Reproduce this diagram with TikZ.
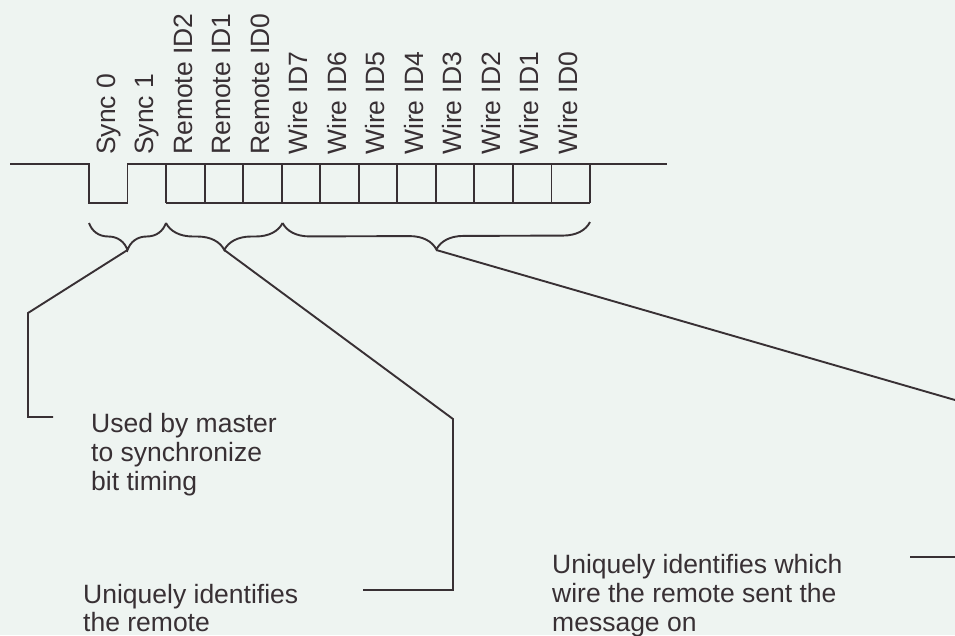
\documentclass[tikz,border=0pt]{standalone}
\usepackage{fontspec}
\setmainfont{Liberation Sans}
\usetikzlibrary{decorations.pathreplacing}
\definecolor{bg}{RGB}{238,244,241}
\definecolor{ink}{RGB}{56,48,52}
\begin{document}
\begin{tikzpicture}[x=1pt,y=-1pt,
  wire/.style={draw=ink, line width=1.9pt, line join=miter},
  bitlabel/.style={rotate=90, anchor=base west, inner sep=0pt, text=ink,
    font=\fontsize{26.5}{29}\selectfont},
  note/.style={anchor=base west, inner sep=0pt, text=ink,
    font=\fontsize{26.5}{29}\selectfont},
  curly/.style={draw=ink, line width=1.9pt, decorate,
    decoration={brace, mirror, amplitude=27pt}}]
\fill[bg] (0,0) rectangle (955,635);
\useasboundingbox (0,0) rectangle (955,635);

% signal waveform
\coordinate (s0) at (10,164);
\coordinate (s1) at (89,164);
\coordinate (s2) at (89,203);
\coordinate (s3) at (127.5,203);
\coordinate (s4) at (127.5,164);
\coordinate (s5) at (667,164);
\draw[wire] (s0) -- (s1) -- (s2) -- (s3) -- (s4) -- (s5);

% bit cells
\coordinate (bl) at (166,203);
\coordinate (br) at (590,203);
\draw[wire] (bl) -- (br);
\foreach \i in {2,...,13}
  \draw[wire] ({89+38.54*\i},164) -- ({89+38.54*\i},203);

% rotated bit labels
\foreach \i/\t in {0/Sync 0,1/Sync 1,2/Remote ID2,3/Remote ID1,4/Remote ID0,
  5/Wire ID7,6/Wire ID6,7/Wire ID5,8/Wire ID4,9/Wire ID3,10/Wire ID2,
  11/Wire ID1,12/Wire ID0}
  \node[bitlabel] (lab\i) at ({89+38.54*\i+26},155) {\t};

% braces
\coordinate (k0) at (89,223);
\coordinate (k1) at (166,223);
\coordinate (k2) at (282.6,223);
\coordinate (k3) at (590,222);
\draw[curly] (k0) -- (k1);
\draw[curly] (k1) -- (k2);
\draw[curly] (k2) -- (k3);
\coordinate (b1) at (127.5,250);
\coordinate (b2) at (224.3,250);
\coordinate (b3) at (436.3,250);

% leader lines
\coordinate (p1a) at (28,313);
\coordinate (p1b) at (28,417);
\coordinate (p1c) at (53,417);
\draw[wire] (b1) -- (p1a) -- (p1b) -- (p1c);
\coordinate (p2a) at (453,419);
\coordinate (p2b) at (453,590);
\coordinate (p2c) at (363,590);
\draw[wire] (b2) -- (p2a) -- (p2b) -- (p2c);
\coordinate (p3a) at (955,400);
\draw[wire] (b3) -- (p3a);
\coordinate (p3b) at (910,557);
\coordinate (p3c) at (955,557);
\draw[wire] (p3b) -- (p3c);

% notes
\node[note] (t1) at (91,432) {\begin{tabular}[t]{@{}l@{}}Used by master\\to synchronize\\bit timing\end{tabular}};
\node[note] (t2) at (83,603) {\begin{tabular}[t]{@{}l@{}}Uniquely identifies\\[-1pt]the remote\end{tabular}};
\node[note] (t3) at (552,573) {\begin{tabular}[t]{@{}l@{}}Uniquely identifies which\\wire the remote sent the\\message on\end{tabular}};
\end{tikzpicture}
\end{document}
